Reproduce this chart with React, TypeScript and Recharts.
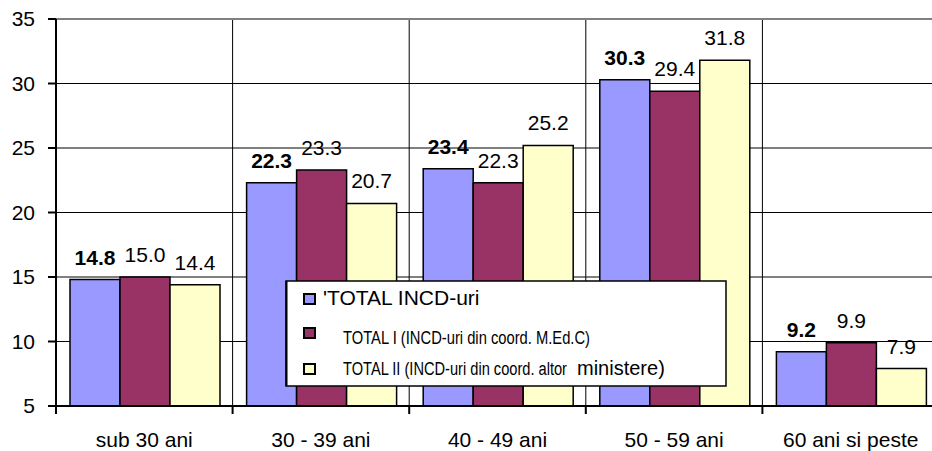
import { Bar, BarChart, CartesianGrid, LabelList, ReferenceLine, XAxis, YAxis } from 'recharts';

const categories = ['sub 30 ani', '30 - 39 ani', '40 - 49 ani', '50 - 59 ani', '60 ani si peste'];
const totalIncd = [14.8, 22.3, 23.4, 30.3, 9.2];
const totalI = [15.0, 23.3, 22.3, 29.4, 9.9];
const totalII = [14.4, 20.7, 25.2, 31.8, 7.9];
const yTicks = [5, 10, 15, 20, 25, 30, 35];

const data = categories.map((name, i) => ({
  name,
  total: totalIncd[i],
  t1: totalI[i],
  t2: totalII[i],
}));

const FONT = '"Liberation Sans", Arial, sans-serif';
const NARROW = '"Liberation Sans Narrow", "Liberation Sans", Arial, sans-serif';
const BLUE = '#9999ff';
const MAROON = '#993366';
const CREAM = '#ffffcc';

function CategoryTick(props: any) {
  const { x, y, payload, index } = props;
  const half = payload.offset || 0;
  return (
    <g>
      <line x1={x - half} x2={x - half} y1={y} y2={y + 8} stroke="#000" strokeWidth={2} />
      {index === categories.length - 1 && (
        <line x1={x + half} x2={x + half} y1={y} y2={y + 8} stroke="#000" strokeWidth={2} />
      )}
      <text x={x} y={y + 41} textAnchor="middle" fontSize={21} fontFamily={FONT} fill="#000">
        {payload.value}
      </text>
    </g>
  );
}

// vertical grid lines sit on the category boundaries, not on the tick centres
function categoryBoundaries({ xAxis, offset }: any) {
  const scale = xAxis && xAxis.scale;
  if (typeof scale === 'function' && typeof scale.bandwidth === 'function') {
    const bw = scale.bandwidth();
    return [...categories.map((c) => scale(c)), scale(categories[categories.length - 1]) + bw];
  }
  const step = offset.width / categories.length;
  return [0, 1, 2, 3, 4, 5].map((i) => offset.left + i * step);
}

// legend drawn over the plot, like the original
function LegendBox() {
  return (
    <svg width={442} height={107} style={{ position: 'absolute', left: 285, top: 280 }}>
      <rect x={1} y={1} width={440} height={105} fill="#fff" stroke="#000" strokeWidth={1.5} />
      <line x1={1.5} x2={1.5} y1={1} y2={106} stroke="#000" strokeWidth={2} />
      <rect x={19} y={14} width={11} height={10} fill={BLUE} stroke="#000" strokeWidth={2} />
      <text x={38} y={25} fontSize={21} fontFamily={FONT} fill="#000">'TOTAL INCD-uri</text>
      <rect x={19} y={48} width={11} height={10} fill={MAROON} stroke="#000" strokeWidth={2} />
      <text x={58} y={64} fontSize={18} fontFamily={NARROW} fill="#000" textLength={247} lengthAdjust="spacingAndGlyphs">
        TOTAL I (INCD-uri din coord. M.Ed.C)
      </text>
      <rect x={19} y={84} width={11} height={10} fill={CREAM} stroke="#000" strokeWidth={2} />
      <text x={58} y={95} fontSize={18} fontFamily={NARROW} fill="#000" textLength={224} lengthAdjust="spacingAndGlyphs">
        TOTAL II (INCD-uri din coord. altor
      </text>
      <text x={292} y={95} fontSize={20} fontFamily={FONT} fill="#000">ministere)</text>
    </svg>
  );
}

const fmt = (v: any) => Number(v).toFixed(1);

export default function App() {
  return (
    <div style={{ position: 'absolute', left: 0, top: 0, width: 932, height: 451, overflow: 'hidden', background: '#fff' }}>
      <BarChart
        width={945}
        height={451}
        data={data}
        margin={{ top: 19, right: 6, bottom: 0, left: 0 }}
        barCategoryGap={14}
        barGap={0}
      >
        <CartesianGrid stroke="#000" strokeWidth={1} verticalCoordinatesGenerator={categoryBoundaries} />
        <XAxis
          dataKey="name"
          height={45}
          tickSize={0}
          tickMargin={0}
          tickLine={false}
          axisLine={{ stroke: '#000', strokeWidth: 2 }}
          tick={<CategoryTick />}
          interval={0}
        />
        <YAxis
          width={56}
          domain={[5, 35]}
          ticks={yTicks}
          tickSize={8}
          tickMargin={13}
          axisLine={{ stroke: '#000', strokeWidth: 2 }}
          tickLine={{ stroke: '#000', strokeWidth: 2 }}
          tick={{ fontSize: 21, fontFamily: FONT, fill: '#000' }}
        />
        <ReferenceLine y={35} stroke="#808080" strokeWidth={2} />
        <Bar dataKey="total" fill={BLUE} stroke="#000" strokeWidth={1.5} isAnimationActive={false}>
          <LabelList dataKey="total" position="top" offset={15} formatter={fmt} fontSize={21} fontWeight="bold" fontFamily={FONT} fill="#000" />
        </Bar>
        <Bar dataKey="t1" fill={MAROON} stroke="#000" strokeWidth={1.5} isAnimationActive={false}>
          <LabelList dataKey="t1" position="top" offset={15} formatter={fmt} fontSize={21} fontFamily={FONT} fill="#000" />
        </Bar>
        <Bar dataKey="t2" fill={CREAM} stroke="#000" strokeWidth={1.5} isAnimationActive={false}>
          <LabelList dataKey="t2" position="top" offset={15} formatter={fmt} fontSize={21} fontFamily={FONT} fill="#000" />
        </Bar>
      </BarChart>
      <LegendBox />
    </div>
  );
}
